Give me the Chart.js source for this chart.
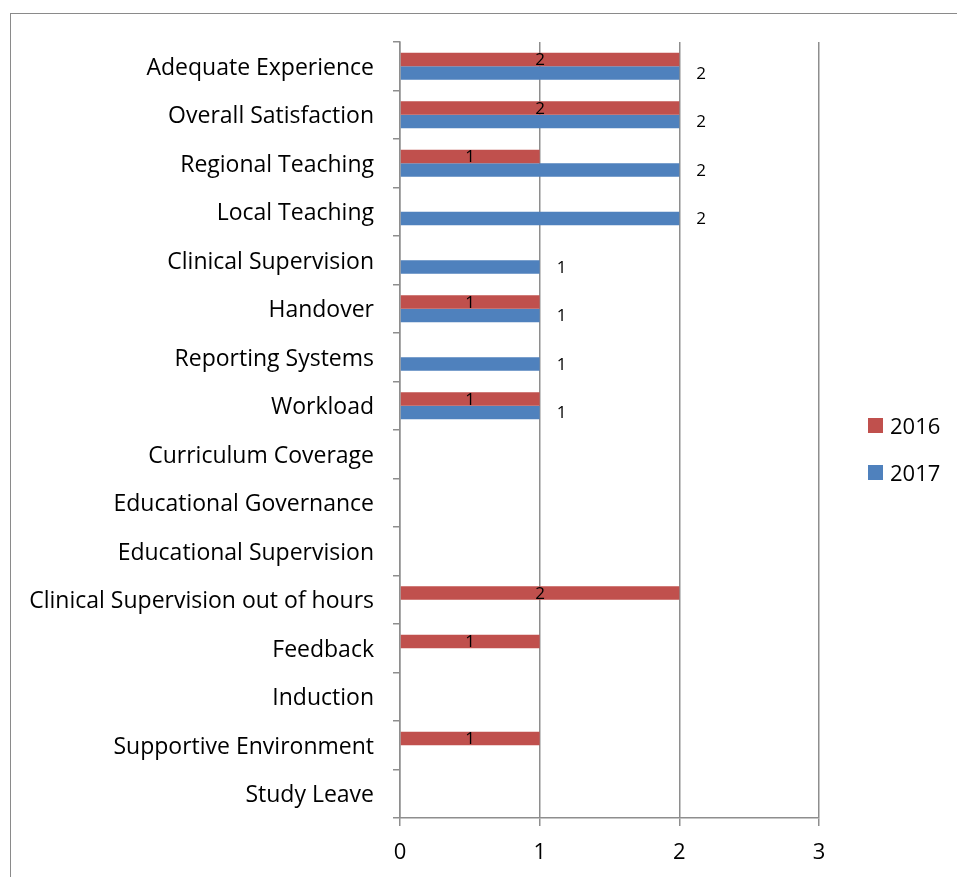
<!DOCTYPE html>
<html lang="en">
<head>
  <meta charset="UTF-8" />
  <title>Survey results 2016 vs 2017</title>
  <script src="https://cdn.jsdelivr.net/npm/chart.js@4.4.3/dist/chart.umd.js"></script>
  <style>
    *{box-sizing:border-box;margin:0;padding:0}
    html,body{width:957px;height:877px;overflow:hidden;background:#fff}
    body{position:relative;font-family:"Open Sans",sans-serif;color:#000}
    .frame{position:absolute;left:10px;top:13px;width:1000px;height:1000px;border:1.5px solid #8a8a8a}
    #wrap{position:absolute;left:0;top:0;width:957px;height:877px}
    .legend{position:absolute;left:868px;top:410px}
    .legend div{position:relative;height:47px;font-size:22px;line-height:31px;padding-left:22px}
    .legend span{position:absolute;left:0;top:8px;width:15px;height:15px}
  </style>
</head>
<body>
  <div class="frame"></div>
  <div id="wrap"><canvas id="chart" width="957" height="877"></canvas></div>
  <div class="legend" id="legend"></div>

  <script>
    // ==== DATA ====
    const categories = [
      'Adequate Experience', 'Overall Satisfaction', 'Regional Teaching', 'Local Teaching',
      'Clinical Supervision', 'Handover', 'Reporting Systems', 'Workload',
      'Curriculum Coverage', 'Educational Governance', 'Educational Supervision',
      'Clinical Supervision out of hours', 'Feedback', 'Induction',
      'Supportive Environment', 'Study Leave'
    ];
    const values2016 = [2, 2, 1, null, null, 1, null, 1, null, null, null, 2, 1, null, 1, null];
    const values2017 = [2, 2, 2, 2, 1, 1, 1, 1, null, null, null, null, null, null, null, null];
    const xTicks = [0, 1, 2, 3];

    const RED = '#C0504D', BLUE = '#4F81BD', GRID = '#8e8e8e';
    Chart.defaults.font.family = '"Open Sans", sans-serif';
    Chart.defaults.color = '#000';

    // simple value labels: 2016 centred in the bar, 2017 just past the bar end
    const valueLabels = {
      id: 'valueLabels',
      afterDatasetsDraw(chart){
        const ctx = chart.ctx;
        ctx.save();
        ctx.fillStyle = '#000';
        ctx.font = '17px "Open Sans", sans-serif';
        ctx.textBaseline = 'middle';
        chart.data.datasets.forEach((ds, di) => {
          const meta = chart.getDatasetMeta(di);
          meta.data.forEach((bar, i) => {
            const v = ds.data[i];
            if (v == null) return;
            if (di === 0){
              ctx.textAlign = 'center';
              ctx.fillText(String(v), (bar.x + bar.base) / 2, bar.y + 1);
            } else {
              ctx.textAlign = 'left';
              ctx.fillText(String(v), bar.x + 17, bar.y + 1);
            }
          });
        });
        ctx.restore();
      }
    };

    new Chart(document.getElementById('chart'), {
      type: 'bar',
      data: {
        labels: categories,
        datasets: [
          {label: '2016', data: values2016, backgroundColor: RED},
          {label: '2017', data: values2017, backgroundColor: BLUE}
        ]
      },
      options: {
        indexAxis: 'y',
        responsive: false,
        animation: false,
        categoryPercentage: 0.56,
        barPercentage: 1.0,
        layout: {padding: {top: 42, right: 138, bottom: 0, left: 0}},
        scales: {
          x: {
            min: 0, max: 3,
            afterBuildTicks: s => { s.ticks = xTicks.map(v => ({value: v})); },
            afterFit: s => { s.height = 59; },
            grid: {color: GRID, lineWidth: 1.5, tickLength: 8},
            border: {color: GRID, width: 1.5},
            ticks: {font: {size: 22}, padding: 14}
          },
          y: {
            afterFit: s => { s.width = 400; },
            grid: {color: GRID, lineWidth: 1.5, tickLength: 7, drawOnChartArea: false, offset: true},
            border: {color: GRID, width: 1.5},
            ticks: {font: {size: 23}, padding: 19, autoSkip: false, labelOffset: 2}
          }
        },
        plugins: {legend: {display: false}, tooltip: {enabled: false}}
      },
      plugins: [valueLabels]
    });

    // legend
    const legend = document.getElementById('legend');
    [['2016', RED], ['2017', BLUE]].forEach(([t, c]) => {
      const d = document.createElement('div');
      d.innerHTML = `<span style="background:${c}"></span>${t}`;
      legend.appendChild(d);
    });
  </script>
</body>
</html>
